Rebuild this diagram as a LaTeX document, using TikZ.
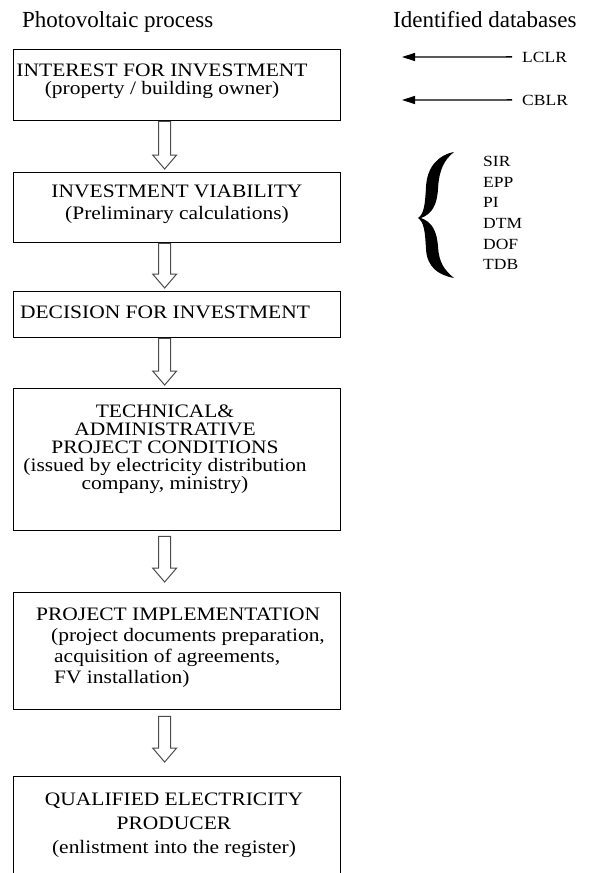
\documentclass[tikz,border=0pt]{standalone}
\usepackage{fontspec}
\setmainfont{Liberation Serif}
\newfontfamily\hdrfont{Liberation Serif}
\newfontfamily\boxfont[FakeStretch=1.13]{Liberation Serif}
\usetikzlibrary{arrows.meta,calc}
\begin{document}
\begin{tikzpicture}[x=1pt,y=-1pt,
  box/.style={draw=black, line width=1.3pt, inner sep=0pt, minimum width=327pt, anchor=north west},
  btext/.style={font=\boxfont\fontsize{19}{18}\selectfont, align=center, inner sep=0pt, anchor=north},
  hdr/.style={font=\hdrfont\fontsize{23}{26}\selectfont, inner sep=0pt, anchor=base west},
  lbl/.style={font=\boxfont\fontsize{15.5}{20.7}\selectfont, inner sep=0pt},
  hollow/.style={draw=black!70, line width=1pt, fill=white,
    to path={let \p1=(\tikztostart), \p2=(\tikztotarget) in
      (\x1-6pt,\y1) -- (\x1-6pt,\y2+14pt) -- (\x1-12pt,\y2+14pt) -- (\x1,\y2)
      -- (\x1+12pt,\y2+14pt) -- (\x1+6pt,\y2+14pt) -- (\x1+6pt,\y1) -- cycle}},
  dbarrow/.style={draw=black, line width=1.4pt, -{Triangle[length=13pt,width=8pt]}}
]
\useasboundingbox (0,0) rectangle (591,873);
\fill[white] (0,0) rectangle (591,873);

% headers
\node[hdr] (hp) at (22,27) {Photovoltaic process};
\node[hdr] (hd) at (393,27) {Identified databases};

% boxes
\node[box, minimum height=71pt] (b1) at (13,49) {};
\node[box, minimum height=70pt] (b2) at (13,172) {};
\node[box, minimum height=46pt] (b3) at (13,291) {};
\node[box, minimum height=142pt] (b4) at (13,388) {};
\node[box, minimum height=117pt] (b5) at (13,592) {};
\node[box, minimum height=104pt] (b6) at (13,776) {};

% box texts
\node[btext] (t1) at (162,63.4) {INTEREST FOR INVESTMENT\\(property / building owner)};
\node[btext] (t2) at (177,184.4) {INVESTMENT VIABILITY\\[4pt](Preliminary calculations)};
\node[btext] (t3) at (165,305.4) {DECISION FOR INVESTMENT};
\node[btext] (t4) at (165,404.4) {TECHNICAL\&\\ADMINISTRATIVE\\PROJECT CONDITIONS\\(issued by electricity distribution\\company, ministry)};
\node[btext, align=left, anchor=north west] (t5) at (36,607.4) {PROJECT IMPLEMENTATION\\[3pt]\hspace*{15pt}(project documents preparation,\\[3pt]\hspace*{18pt}acquisition of agreements,\\[3pt]\hspace*{18pt}FV installation)};
\node[btext] (t6) at (174,792.4) {QUALIFIED ELECTRICITY\\[6pt]PRODUCER\\[6pt](enlistment into the register)};

% hollow block arrows
\draw[hollow] ([xshift=-12.5pt]b1.south) to ([xshift=-12.5pt,yshift=3pt]b2.north);
\draw[hollow] ([xshift=-12.5pt]b2.south) to ([xshift=-12.5pt,yshift=3pt]b3.north);
\draw[hollow] ([xshift=-12.5pt]b3.south) to ([xshift=-12.5pt,yshift=3pt]b4.north);
\draw[hollow] ([xshift=-12.5pt,yshift=-5pt]b4.south) to ([xshift=-12.5pt,yshift=10pt]b5.north);
\draw[hollow] ([xshift=-12.5pt,yshift=-6pt]b5.south) to ([xshift=-12.5pt,yshift=14pt]b6.north);

% databases
\node[lbl, anchor=base west] (lclr) at (522,62) {LCLR};
\node[lbl, anchor=base west] (cblr) at (522,105) {CBLR};
\coordinate (lt) at (402,57);
\coordinate (ct) at (402,100);
\draw[dbarrow] ([xshift=-10pt]lclr.west) -- (lt);
\draw[dbarrow] ([xshift=-10pt]cblr.west) -- (ct);

\fill[black] (454,152) .. controls (438,155) and (427,167) .. (426,187)
  .. controls (425,205) and (424,214) .. (418,218)
  .. controls (424,222) and (425,231) .. (426,249)
  .. controls (427,267) and (438,275) .. (454,278)
  .. controls (444,270) and (439,262) .. (438,247)
  .. controls (437,231) and (432,222) .. (421,218)
  .. controls (432,214) and (437,205) .. (438,189)
  .. controls (439,170) and (444,160) .. (454,152) -- cycle;

\node[lbl, align=left, anchor=north west] (dbs) at (483,156) {SIR\\EPP\\PI\\DTM\\DOF\\TDB};
\end{tikzpicture}
\end{document}
